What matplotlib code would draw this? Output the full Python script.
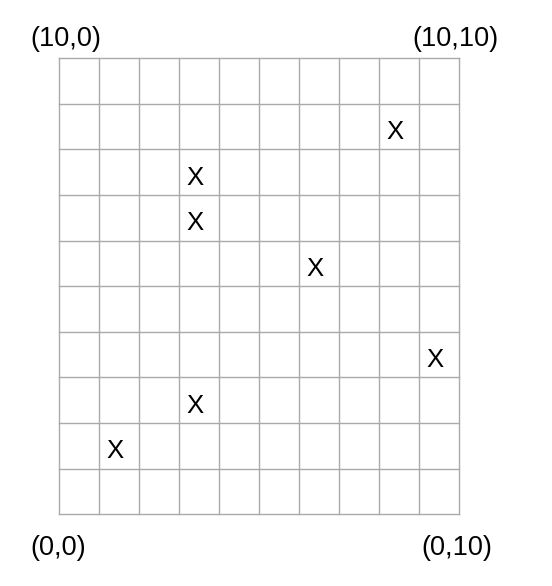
import matplotlib
matplotlib.use("Agg")
import matplotlib.pyplot as plt
import matplotlib.transforms as mtransforms

n_cols = 10
n_rows = 10
mark_cols = [8, 3, 3, 6, 9, 3, 1]
mark_rows = [1, 2, 3, 4, 6, 7, 8]   # counted from top
corner_labels = ["(10,0)", "(10,10)", "(0,0)", "(0,10)"]

W, H = 552, 586
fig = plt.figure(figsize=(W / 100, H / 100), dpi=100)
plt.rcParams['font.family'] = ['Liberation Sans', 'DejaVu Sans']

left, right, top, bottom = 59.3, 459.3, 58.0, 514.3
ax = fig.add_axes([left / W, 1 - bottom / H, (right - left) / W, (bottom - top) / H])
ax.set_xlim(0, n_cols)
ax.set_ylim(n_rows, 0)
for i in range(n_cols + 1):
    ax.axvline(i, color='#aaaaaa', lw=1.0, clip_on=False)
for j in range(n_rows + 1):
    ax.axhline(j, color='#aaaaaa', lw=1.0, clip_on=False)
ax.set_xticks([])
ax.set_yticks([])
for s in ax.spines.values():
    s.set_visible(False)

trans = mtransforms.offset_copy(ax.transData, fig=fig, x=-4.5, y=-3, units='dots')
for c, r in zip(mark_cols, mark_rows):
    ax.text(c + 0.5, r + 0.5, "X", fontsize=18.5, ha='center', va='center_baseline',
            transform=trans, color='black')

pos = [(66, 36), (455, 36), (58, 545), (457, 545)]
for lab, (px, py) in zip(corner_labels, pos):
    fig.text(px / W, 1 - py / H, lab, fontsize=19.5, ha='center', va='center_baseline', color='black')

fig.savefig("out.png", dpi=100)
